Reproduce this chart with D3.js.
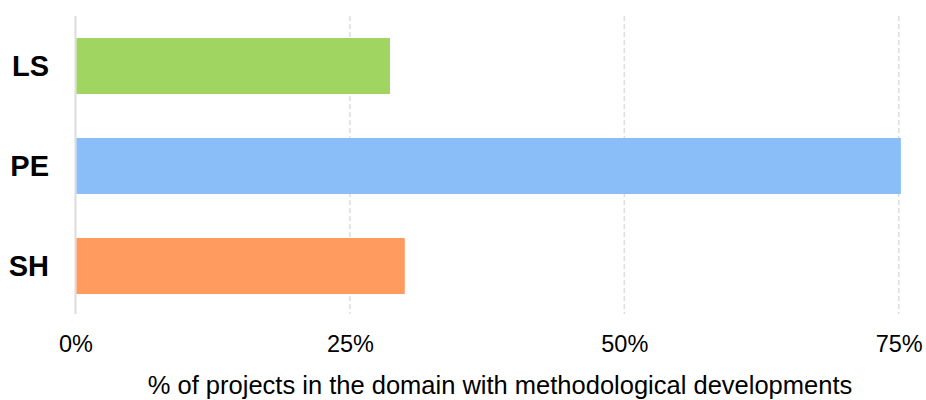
<!DOCTYPE html>
<html>
<head>
<meta charset="utf-8">
<script src="https://cdn.jsdelivr.net/npm/d3@7"></script>
<style>
  body { margin: 0; background: #fff; }
  svg { font-family: "Liberation Sans", Arial, sans-serif; }
</style>
</head>
<body>
<div id="vis"></div>
<script>
// data
const domains = ["LS", "PE", "SH"];
const shares = [28.65, 75.2, 30.0];
const barColors = ["#a0d562", "#8abef8", "#ff9b5e"];
const tickValues = [0, 25, 50, 75];
const axisTitle = "% of projects in the domain with methodological developments";

const width = 926, height = 400;

const svg = d3.select("#vis")
  .append("svg")
  .attr("width", width)
  .attr("height", height);

// scales
const x = d3.scaleLinear()
  .domain([0, 75])
  .range([75.5, 898.7]);

const y = d3.scaleBand()
  .domain(domains)
  .range([16, 316])
  .paddingInner(0.44)
  .paddingOuter(0.22);

// grid lines (dashed), 0 line is solid
svg.append("g")
  .selectAll("line")
  .data(tickValues)
  .enter()
  .append("line")
    .attr("x1", d => x(d))
    .attr("x2", d => x(d))
    .attr("y1", 16)
    .attr("y2", 314)
    .attr("stroke", "#dcdcdc")
    .attr("stroke-width", d => d === 0 ? 2 : 1.5)
    .attr("stroke-dasharray", d => d === 0 ? null : "5,3");

// bars
svg.append("g")
  .selectAll("rect")
  .data(domains)
  .enter()
  .append("rect")
    .attr("x", x(0) + 1)
    .attr("y", d => y(d))
    .attr("width", (d, i) => x(shares[i]) - x(0) - 1)
    .attr("height", y.bandwidth())
    .attr("fill", (d, i) => barColors[i]);

// y axis labels
const yAxis = svg.append("g")
  .attr("transform", "translate(49,0)")
  .call(d3.axisLeft(y).tickSize(0).tickPadding(0));
yAxis.select(".domain").remove();
yAxis.selectAll("text")
  .attr("font-family", "Liberation Sans, Arial, sans-serif")
  .attr("font-size", 29)
  .attr("font-weight", "bold")
  .attr("fill", "#000")
  .attr("dy", "0.34em");

// x axis labels
const xAxis = svg.append("g")
  .attr("transform", "translate(0,352)")
  .call(d3.axisBottom(x).tickValues(tickValues).tickSize(0).tickPadding(0)
    .tickFormat(d => d + "%"));
xAxis.select(".domain").remove();
xAxis.selectAll("text")
  .attr("font-family", "Liberation Sans, Arial, sans-serif")
  .attr("font-size", 23.5)
  .attr("fill", "#000")
  .attr("dy", 0);

// axis title
svg.append("text")
  .attr("x", 500)
  .attr("y", 394)
  .attr("text-anchor", "middle")
  .attr("font-size", 25.5)
  .attr("fill", "#000")
  .text(axisTitle);
</script>
</body>
</html>
